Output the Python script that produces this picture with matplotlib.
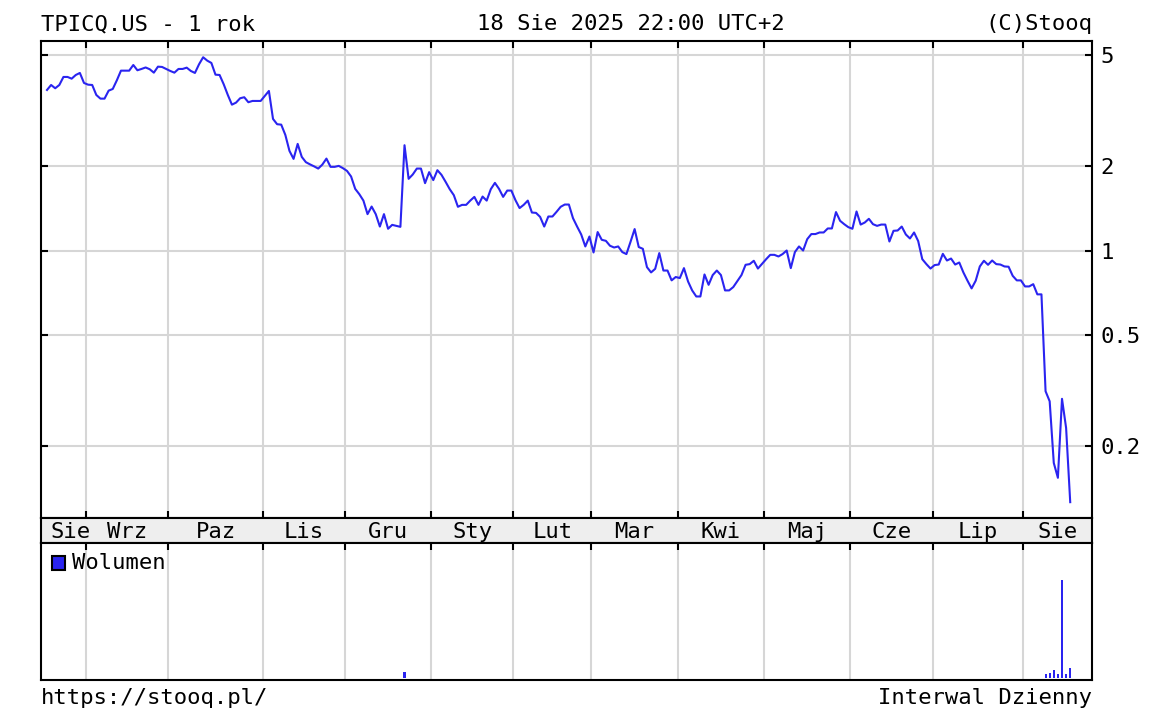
import numpy as np
import pandas as pd
import matplotlib
matplotlib.use('Agg')
import matplotlib.pyplot as plt
from matplotlib.patches import Rectangle
from matplotlib.ticker import NullLocator

# US market holidays in the window (trading-day axis)
holidays = ['2024-09-02', '2024-11-28', '2024-12-25', '2025-01-01', '2025-01-09',
            '2025-01-20', '2025-02-17', '2025-04-18', '2025-05-26', '2025-06-19',
            '2025-07-04']
dates = pd.bdate_range('2024-08-19', '2025-08-18', freq='C', holidays=holidays)

# daily close, TPICQ.US
close = [
    3.749, 3.906, 3.802, 3.906, 4.173, 4.173, 4.114, 4.241, 4.313, 3.972,
    3.916, 3.906, 3.598, 3.491, 3.491, 3.728, 3.780, 4.060, 4.395, 4.395,
    4.395, 4.605, 4.409, 4.457, 4.512, 4.446, 4.323, 4.542, 4.531, 4.457,
    4.384, 4.323, 4.457, 4.457, 4.505, 4.384, 4.313, 4.632, 4.908, 4.772,
    4.683, 4.252, 4.241, 3.929, 3.598, 3.322, 3.378, 3.502, 3.531, 3.389,
    3.425, 3.425, 3.425, 3.569, 3.719, 2.954, 2.828, 2.818, 2.589, 2.271,
    2.126, 2.405, 2.161, 2.069, 2.032, 1.999, 1.963, 2.028, 2.131, 1.991,
    1.991, 2.007, 1.970, 1.926, 1.839, 1.661, 1.590, 1.508, 1.349, 1.436,
    1.349, 1.218, 1.349, 1.196, 1.235, 1.225, 1.215, 2.379, 1.804, 1.869,
    1.963, 1.963, 1.741, 1.906, 1.785, 1.937, 1.864, 1.760, 1.657, 1.577,
    1.433, 1.456, 1.456, 1.508, 1.555, 1.456, 1.559, 1.508, 1.657, 1.745,
    1.661, 1.555, 1.638, 1.638, 1.513, 1.418, 1.456, 1.508, 1.367, 1.363,
    1.319, 1.218, 1.323, 1.323, 1.375, 1.433, 1.460, 1.460, 1.305, 1.218,
    1.141, 1.034, 1.122, 0.984, 1.164, 1.092, 1.083, 1.040, 1.025, 1.034,
    0.987, 0.971, 1.074, 1.193, 1.029, 1.014, 0.872, 0.835, 0.860, 0.979,
    0.848, 0.848, 0.782, 0.804, 0.797, 0.865, 0.775, 0.720, 0.685, 0.685,
    0.821, 0.754, 0.817, 0.848, 0.817, 0.720, 0.720, 0.740, 0.778, 0.817,
    0.889, 0.894, 0.919, 0.862, 0.896, 0.931, 0.965, 0.965, 0.952, 0.971,
    1.000, 0.865, 0.987, 1.034, 1.000, 1.098, 1.145, 1.145, 1.160, 1.160,
    1.199, 1.199, 1.372, 1.277, 1.242, 1.212, 1.196, 1.379, 1.238, 1.259,
    1.298, 1.242, 1.225, 1.238, 1.238, 1.077, 1.176, 1.179, 1.218, 1.141,
    1.104, 1.160, 1.081, 0.931, 0.894, 0.862, 0.887, 0.891, 0.973, 0.921,
    0.936, 0.891, 0.906, 0.835, 0.780, 0.732, 0.780, 0.877, 0.919, 0.889,
    0.921, 0.894, 0.891, 0.877, 0.875, 0.812, 0.782, 0.782, 0.744, 0.744,
    0.758, 0.697, 0.697, 0.314, 0.289, 0.174, 0.154, 0.295, 0.232, 0.126,
]

# days with a visible volume bar (relative units)
vol_dates = ['2024-12-20', '2025-08-08', '2025-08-11', '2025-08-12',
             '2025-08-13', '2025-08-14', '2025-08-15', '2025-08-18']
volume = [6.1, 3.8, 5.1, 7.9, 3.8, 100.0, 3.8, 9.9]

month_names = {1: 'Sty', 2: 'Lut', 3: 'Mar', 4: 'Kwi', 5: 'Maj', 6: 'Cze',
               7: 'Lip', 8: 'Sie', 9: 'Wrz', 10: 'Paz', 11: 'Lis', 12: 'Gru'}
price_ticks = [0.2, 0.5, 1, 2, 5]
price_labels = ['0.2', '0.5', '1', '2', '5']

blue = '#2a24f0'
grid_c = '#d6d6d6'
font = 'DejaVu Sans Mono'
fs = 16
plt.rcParams['font.family'] = font

idx = np.arange(len(dates))
xlim = (-1.46, 254.3)

# month boundaries (between last day of a month and first of the next)
months = dates.month
starts = [i for i in range(1, len(dates)) if months[i] != months[i - 1]]
bounds = [s - 0.5 for s in starts]

fig = plt.figure(figsize=(11.58, 7.15), dpi=100)
L, W = 41 / 1158, 1051 / 1158
ax = fig.add_axes([L, 197 / 715, W, 477 / 715])
ax_band = fig.add_axes([L, 172 / 715, W, 25 / 715])
ax_vol = fig.add_axes([L, 35 / 715, W, 137 / 715])

# price panel
ax.plot(idx, close, color=blue, lw=1.5, zorder=3)
ax.set_yscale('log')
ax.set_ylim(0.1106, 5.61)
ax.set_xlim(*xlim)
ax.set_yticks(price_ticks)
ax.set_yticklabels(price_labels)
ax.yaxis.set_minor_locator(NullLocator())
ax.set_xticks(bounds)
ax.tick_params(axis='x', top=True, bottom=True, direction='in', length=5,
               width=1.5, labelbottom=False)
ax.tick_params(axis='y', left=True, right=True, direction='in', length=5,
               width=1.5, labelleft=False, labelright=True, pad=6,
               labelsize=fs)
ax.grid(True, color=grid_c, lw=1.5)
ax.set_axisbelow(True)

# month band
ax_band.set_facecolor('#eeeeee')
ax_band.set_xlim(*xlim)
ax_band.set_ylim(0, 1)
ax_band.set_xticks([])
ax_band.set_yticks([])
edges = [xlim[0]] + bounds + [xlim[1]]
first_idx = [0] + starts
trans = ax_band.get_xaxis_transform()
for k in range(len(edges) - 1):
    c = (edges[k] + edges[k + 1]) / 2
    if k == 0:
        c = max(c, xlim[0] + 7.1)
    ax_band.text(c, 0.2, month_names[months[first_idx[k]]], transform=trans,
                 ha='center', va='baseline', fontsize=fs)

# volume panel
vol_x = [dates.get_loc(pd.Timestamp(d)) for d in vol_dates]
ax_vol.bar(vol_x, volume, width=0.5, color=blue, zorder=3)
ax_vol.set_xlim(*xlim)
ax_vol.set_ylim(-2.4, 137.9)
ax_vol.set_xticks(bounds)
ax_vol.set_yticks([])
ax_vol.tick_params(axis='x', top=True, bottom=False, direction='in', length=5,
                   width=1.5, labelbottom=False)
ax_vol.grid(True, axis='x', color=grid_c, lw=1.5)
ax_vol.set_axisbelow(True)
ax_vol.add_patch(Rectangle((11 / 1051, 0.803), 13 / 1051, 0.102,
                           transform=ax_vol.transAxes, facecolor=blue,
                           edgecolor='black', lw=1.5, zorder=4))
ax_vol.text(31 / 1051, 0.854, 'Wolumen', transform=ax_vol.transAxes,
            ha='left', va='center', fontsize=fs)

for a in (ax, ax_band, ax_vol):
    for sp in a.spines.values():
        sp.set_linewidth(1.5)
        sp.set_color('black')

# header / footer
fig.text(41 / 1158, 0.958, 'TPICQ.US - 1 rok', ha='left', va='baseline', fontsize=fs)
fig.text(477 / 1158, 0.958, '18 Sie 2025 22:00 UTC+2', ha='left', va='baseline', fontsize=fs)
fig.text(1092 / 1158, 0.958, '(C)Stooq', ha='right', va='baseline', fontsize=fs)
fig.text(41 / 1158, 0.0154, 'https://stooq.pl/', ha='left', va='baseline', fontsize=fs)
fig.text(1092 / 1158, 0.0154, 'Interwal Dzienny', ha='right', va='baseline', fontsize=fs)

fig.savefig('out.png', dpi=100)
